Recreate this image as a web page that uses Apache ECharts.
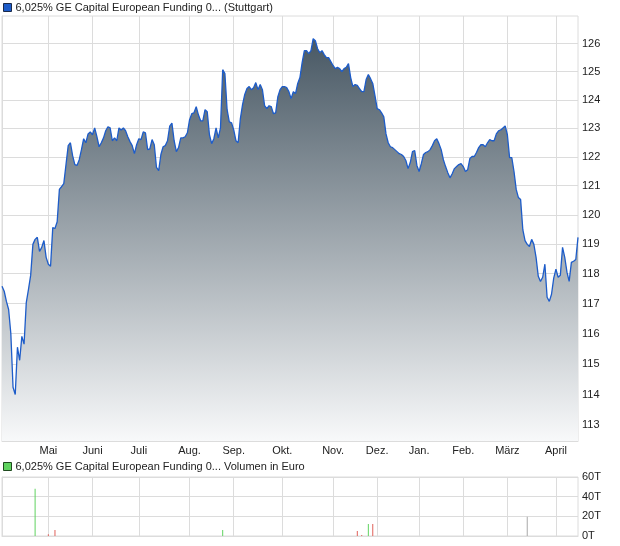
<!DOCTYPE html>
<html>
<head>
<meta charset="utf-8">
<script src="https://cdn.jsdelivr.net/npm/echarts@6/dist/echarts.min.js"></script>
<style>
  html, body { margin: 0; padding: 0; background: #fff; }
  #chart { width: 620px; height: 546px; }
</style>
</head>
<body>
<div id="chart"></div>
<script>
// Handelstage (Index) an denen ein neuer Monat beginnt
var monthIdx = [21, 41, 62, 85, 105, 127, 150, 170, 189, 209, 229, 251];
var monthNames = ["Mai", "Juni", "Juli", "Aug.", "Sep.", "Okt.", "Nov.", "Dez.", "Jan.", "Feb.", "März", "April"];

// Kurs, ein Wert pro Handelstag
var prices = [
  117.58, 117.41, 117.07, 116.80, 116.00, 114.24, 114.00, 115.55, 115.12, 115.91,
  115.65, 117.03, 117.47, 117.95, 118.99, 119.16, 119.23, 118.75, 118.89, 119.12,
  118.55, 118.32, 118.25, 119.56, 119.53, 119.76, 120.87, 120.97, 121.07, 121.73,
  122.39, 122.49, 122.04, 121.73, 121.70, 121.90, 122.25, 122.63, 122.49, 122.80,
  122.87, 122.77, 123.01, 122.70, 122.35, 122.49, 122.66, 122.91, 123.05, 123.01,
  122.56, 122.66, 122.56, 123.01, 122.94, 123.01, 122.91, 122.70, 122.53, 122.39,
  122.11, 122.42, 122.63, 122.60, 122.87, 122.84, 122.25, 122.28, 122.60, 122.42,
  121.63, 121.52, 122.08, 122.35, 122.39, 122.56, 123.07, 123.18, 122.56, 122.18,
  122.32, 122.66, 122.66, 122.70, 122.84, 123.30, 123.51, 123.54, 123.76, 123.47,
  123.26, 123.26, 123.65, 123.58, 122.77, 122.46, 122.63, 123.01, 122.66, 123.01,
  125.07, 124.93, 123.65, 123.22, 123.19, 122.94, 122.56, 122.49, 123.33, 123.83,
  124.19, 124.40, 124.47, 124.36, 124.43, 124.61, 124.36, 124.54, 124.36, 123.79,
  123.69, 123.79, 123.76, 123.51, 123.54, 124.11, 124.36, 124.47, 124.47, 124.43,
  124.29, 124.04, 124.29, 124.22, 124.58, 124.79, 125.32, 125.75, 125.75, 125.64,
  125.75, 126.18, 126.11, 125.82, 125.68, 125.75, 125.61, 125.50, 125.50, 125.36,
  125.22, 125.11, 125.15, 125.11, 125.00, 125.11, 125.15, 125.29, 124.79, 124.47,
  124.54, 124.51, 124.40, 124.29, 124.29, 124.72, 124.90, 124.75, 124.58, 124.15,
  123.69, 123.65, 123.54, 123.40, 122.80, 122.49, 122.35, 122.32, 122.25, 122.18,
  122.11, 122.08, 122.01, 121.87, 121.59, 121.80, 122.18, 122.22, 121.70, 121.49,
  121.76, 122.08, 122.15, 122.18, 122.25, 122.39, 122.56, 122.63, 122.46, 122.25,
  121.90, 121.66, 121.45, 121.27, 121.41, 121.59, 121.66, 121.73, 121.76, 121.66,
  121.49, 121.55, 121.94, 122.01, 122.01, 122.15, 122.32, 122.42, 122.42, 122.35,
  122.49, 122.60, 122.56, 122.56, 122.80, 122.91, 122.94, 123.01, 123.08, 122.77,
  121.97, 121.97, 121.49, 120.87, 120.59, 120.52, 119.49, 119.12, 118.99, 118.92,
  119.16, 118.99, 118.55, 117.91, 117.74, 117.88, 118.32, 117.21, 117.07, 117.31,
  117.85, 118.15, 117.88, 117.95, 118.89, 118.55, 118.05, 117.74, 118.38, 118.42,
  118.48, 119.23
];
var priceTicks = [113, 114, 115, 116, 117, 118, 119, 120, 121, 122, 123, 124, 125, 126];

// Umsatz in Tsd. Euro
var volIdx = [15, 21, 24, 100, 161, 163, 166, 168, 238];
var volValues = [48, 1.8, 6.2, 6.2, 5, 1, 12.3, 12.3, 19.5];
var volDir = ["up", "down", "down", "up", "down", "down", "up", "down", "flat"];

var nameKurs = "6,025% GE Capital European Funding 0... (Stuttgart)";
var nameVol = "6,025% GE Capital European Funding 0... Volumen in Euro";

var dirColor = { up: "#5fd35f", down: "#e0605a", flat: "#a8a8a8" };
var gridColor = "#dcdcdc";
var textColor = "#222";

var chart = echarts.init(document.getElementById("chart"), null, { renderer: "canvas" });

var monthLabel = function (v) {
  var k = monthIdx.indexOf(v);
  return k >= 0 ? monthNames[k] : "";
};

var option = {
  animation: false,
  backgroundColor: "#fff",
  textStyle: { fontFamily: "'Liberation Sans', Arial, sans-serif", color: textColor },
  legend: [
    {
      left: 3, top: 2, padding: 0, itemWidth: 8, itemHeight: 8, itemGap: 4,
      icon: "rect", selectedMode: false,
      itemStyle: { borderColor: "#1b2a4a", borderWidth: 1 },
      textStyle: { fontSize: 11, color: textColor, padding: [0, 0, 0, -1] },
      data: [nameKurs]
    },
    {
      left: 3, top: 461, padding: 0, itemWidth: 8, itemHeight: 8, itemGap: 4,
      icon: "rect", selectedMode: false,
      itemStyle: { borderColor: "#1f4a1f", borderWidth: 1 },
      textStyle: { fontSize: 11, color: textColor, padding: [0, 0, 0, -1] },
      data: [nameVol]
    }
  ],
  grid: [
    { left: 2, right: 42, top: 16, bottom: 105, show: true, borderColor: gridColor, borderWidth: 1 },
    { left: 2, right: 42, top: 477, bottom: 10, show: true, borderColor: gridColor, borderWidth: 1 }
  ],
  xAxis: [
    {
      type: "value", gridIndex: 0, min: 0, max: prices.length - 1,
      axisLine: { show: true, lineStyle: { color: gridColor } },
      axisTick: { show: false, customValues: monthIdx },
      axisLabel: { customValues: monthIdx, formatter: monthLabel, fontSize: 11, color: textColor, margin: 4 },
      splitLine: { show: true, lineStyle: { color: gridColor, width: 1 } }
    },
    {
      type: "value", gridIndex: 1, min: 0, max: prices.length - 1,
      axisLine: { show: true, lineStyle: { color: gridColor } },
      axisTick: { show: false, customValues: monthIdx },
      axisLabel: { show: false, customValues: monthIdx },
      splitLine: { show: true, lineStyle: { color: gridColor, width: 1 } }
    }
  ],
  yAxis: [
    {
      type: "log", logBase: 10, gridIndex: 0, position: "right", min: 112.5, max: 127,
      axisLine: { show: true, lineStyle: { color: gridColor } },
      axisTick: { show: false, customValues: priceTicks },
      axisLabel: { customValues: priceTicks, fontSize: 11, color: textColor, margin: 4 },
      splitLine: { show: true, lineStyle: { color: gridColor, width: 1 } }
    },
    {
      type: "value", gridIndex: 1, position: "right", min: 0, max: 60, interval: 20,
      axisLine: { show: true, lineStyle: { color: gridColor } },
      axisTick: { show: false },
      axisLabel: { formatter: "{value}T", fontSize: 11, color: textColor, margin: 4 },
      splitLine: { show: true, lineStyle: { color: gridColor, width: 1 } }
    }
  ],
  series: [
    {
      name: nameKurs,
      type: "line",
      xAxisIndex: 0, yAxisIndex: 0,
      symbol: "none",
      color: "#1d5cc9",
      lineStyle: { width: 1.3, color: "#1d5cc9" },
      areaStyle: {
        origin: "start",
        opacity: 1,
        color: new echarts.graphic.LinearGradient(0, 0, 0, 1, [
          { offset: 0, color: "rgb(72,88,100)" },
          { offset: 1, color: "rgb(248,249,250)" }
        ])
      },
      data: prices.map(function (v, i) { return [i, v]; })
    },
    {
      name: nameVol,
      type: "bar",
      xAxisIndex: 1, yAxisIndex: 1,
      barWidth: 1,
      color: dirColor.up,
      data: volIdx.map(function (d, k) {
        return { value: [d, volValues[k]], itemStyle: { color: dirColor[volDir[k]] } };
      })
    }
  ]
};

chart.setOption(option);
</script>
</body>
</html>
